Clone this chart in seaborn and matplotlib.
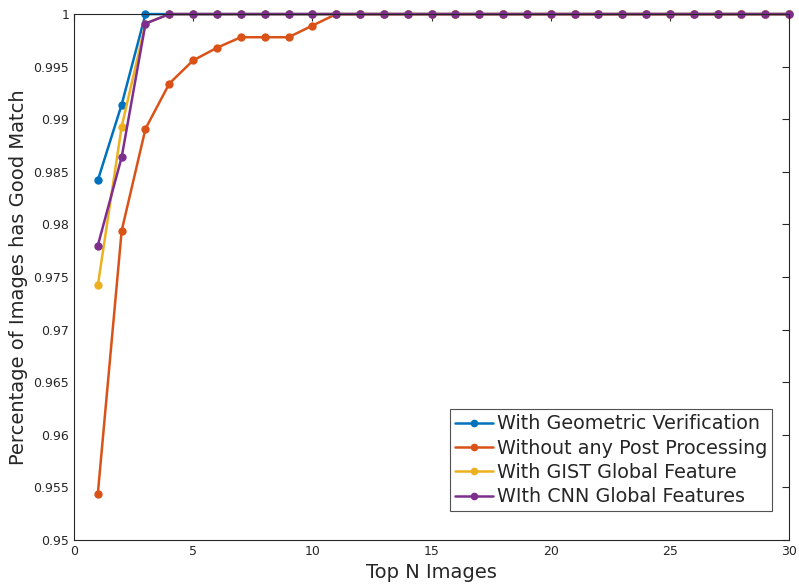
import numpy as np
import pandas as pd
import matplotlib
matplotlib.use('Agg')
import matplotlib.pyplot as plt
import seaborn as sns

# Top N values and the match rate of each method
top_n = list(range(1, 31))
geometric = [0.9842, 0.9914] + [1.0] * 28
no_post = [0.9544, 0.9794, 0.9891, 0.9934, 0.9956, 0.9968, 0.9978, 0.9978, 0.9978, 0.9989] + [1.0] * 20
gist = [0.9742, 0.9893, 0.9991] + [1.0] * 27
cnn = [0.9780, 0.9864, 0.9991] + [1.0] * 27

labels = ['With Geometric Verification', 'Without any Post Processing',
          'With GIST Global Feature', 'WIth CNN Global Features']
colors = ['#0072BD', '#D95319', '#EDB120', '#7E2F8E']

df = pd.DataFrame({
    'Top N': top_n * 4,
    'value': geometric + no_post + gist + cnn,
    'method': sum([[l] * 30 for l in labels], []),
})

sns.set_style('white')
plt.rcParams['font.family'] = ['DejaVu Sans']

fig = plt.figure(figsize=(7.99, 5.87), dpi=100)
ax = fig.add_axes([0.0926, 0.080, 0.895, 0.896])

sns.lineplot(data=df, x='Top N', y='value', hue='method', hue_order=labels,
             palette=colors, marker='o', markersize=4.5, linewidth=1.8,
             ax=ax, legend=False)

# matlab-style markers: coloured edge, not clipped at the top border
for line, c in zip(ax.get_lines(), colors):
    line.set_markeredgecolor(c)
    line.set_markerfacecolor(c)
    line.set_markeredgewidth(1.5)
    line.set_clip_on(False)

ax.set_xlim(0, 30)
ax.set_ylim(0.95, 1.0)
ax.set_xticks(np.arange(0, 31, 5))
ax.set_yticks(np.arange(0.95, 1.0001, 0.005))
ax.set_yticklabels(['0.95', '0.955', '0.96', '0.965', '0.97', '0.975',
                    '0.98', '0.985', '0.99', '0.995', '1'])
ax.tick_params(direction='in', length=5, labelsize=9, colors='#262626',
               top=True, right=True, width=0.8)
for s in ax.spines.values():
    s.set_color('#262626')
    s.set_linewidth(0.8)

ax.set_xlabel('Top N Images', fontsize=14, color='#262626')
ax.set_ylabel('Percentage of Images has Good Match', fontsize=14, color='#262626')

leg = ax.legend(ax.get_lines(), labels, loc='lower right',
                bbox_to_anchor=(0.976, 0.055), fontsize=13.8,
                frameon=True, fancybox=False, edgecolor='#262626',
                handlelength=2.0, handletextpad=0.2, borderpad=0.25,
                labelspacing=0.28, borderaxespad=0)
leg.get_frame().set_linewidth(0.8)
for h in leg.legend_handles:
    h.set_markersize(4)

fig.savefig('out.png', dpi=100)
